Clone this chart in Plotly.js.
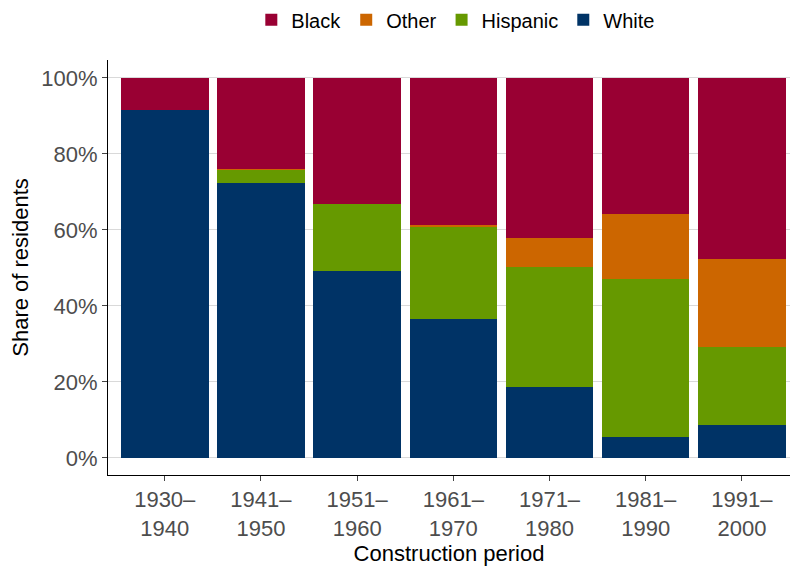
<!DOCTYPE html>
<html><head><meta charset="utf-8">
<script src="https://cdn.plot.ly/plotly-3.0.1.min.js"></script>
<style>body{margin:0}#c{width:790px;height:571px}</style>
</head><body><div id="c"></div>
<script>
var periods = ['1930–<br>1940', '1941–<br>1950', '1951–<br>1960', '1961–<br>1970', '1971–<br>1980', '1981–<br>1990', '1991–<br>2000'];
var white = [0.916, 0.724, 0.492, 0.366, 0.187, 0.055, 0.087];
var hispanic = [0, 0.034, 0.176, 0.242, 0.316, 0.416, 0.205];
var other = [0, 0.002, 0, 0.005, 0.076, 0.171, 0.232];
var black = [0.084, 0.240, 0.332, 0.387, 0.421, 0.358, 0.476];

function tr(name, y, color) {
  return { type: 'bar', name: name, x: periods, y: y, marker: { color: color }, hoverinfo: 'skip' };
}
var data = [
  tr('White', white, '#003366'),
  tr('Hispanic', hispanic, '#669900'),
  tr('Other', other, '#CC6600'),
  tr('Black', black, '#990033')
];
var layout = {
  barmode: 'stack', bargap: 0.09,
  paper_bgcolor: 'white', plot_bgcolor: 'white',
  font: { family: 'Liberation Sans, Arial, sans-serif', size: 22, color: '#000' },
  margin: { l: 108, r: 0, t: 60, b: 96, autoexpand: false },
  showlegend: true,
  legend: { orientation: 'h', x: 0.51, xanchor: 'center', y: 1.05, yanchor: 'bottom', traceorder: 'reversed', font: { size: 20 }, itemwidth: 30 },
  xaxis: {
    title: { text: 'Construction period', standoff: 2, font: { size: 22 } },
    range: [-0.59, 6.5], showline: true, linecolor: '#000', ticks: 'outside', ticklen: 5,
    tickfont: { color: '#4d4d4d', size: 22 }
  },
  yaxis: {
    title: { text: 'Share of residents', font: { size: 22 }, standoff: 6 },
    range: [-0.045, 1.047], tickvals: [0, 0.2, 0.4, 0.6, 0.8, 1], tickformat: '.0%',
    showline: true, linecolor: '#000', ticks: 'outside', ticklen: 5,
    gridcolor: '#d9d9d9', zeroline: false, tickfont: { color: '#4d4d4d', size: 22 }
  }
};
Plotly.newPlot('c', data, layout, { displayModeBar: false });
</script></body></html>
